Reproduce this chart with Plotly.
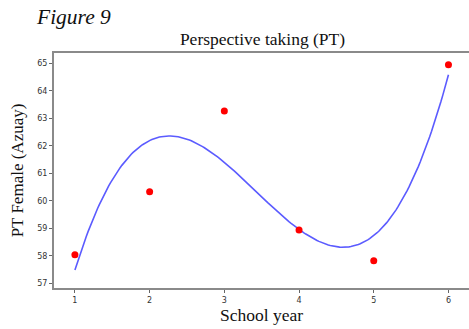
import numpy as np
import plotly.graph_objects as go

school_year = [1, 2, 3, 4, 5, 6]
pt_female = [58.04, 60.33, 63.27, 58.94, 57.82, 64.95]
y_ticks = [57, 58, 59, 60, 61, 62, 63, 64, 65]
x_ticks = [1, 2, 3, 4, 5, 6]

coef = np.polyfit(school_year, pt_female, 3)
xs = np.linspace(1, 6, 200)
ys = np.polyval(coef, xs)

fig = go.Figure()
fig.add_trace(go.Scatter(x=xs, y=ys, mode="lines",
                         line=dict(color="#5b5bff", width=1.6), hoverinfo="skip"))
fig.add_trace(go.Scatter(x=school_year, y=pt_female, mode="markers",
                         marker=dict(color="#ff0000", size=7)))

serif = "Liberation Serif"
PW, PH = 415, 235
fig.update_layout(
    width=469, height=329,
    margin=dict(l=54, r=0, t=53, b=41, autoexpand=False),
    paper_bgcolor="white", plot_bgcolor="white",
    showlegend=False,
    font=dict(family=serif, color="#111"),
    title=dict(text="Perspective taking (PT)", x=262.5 / 469, xanchor="center",
               y=1 - 39 / 329, yanchor="middle",
               font=dict(family=serif, size=17.5, color="#111")),
    annotations=[dict(text="<i>Figure 9</i>", xref="paper", yref="paper",
                      x=(34 - 54) / PW, y=1 + (53 - 17) / PH,
                      xanchor="left", yanchor="middle", showarrow=False,
                      font=dict(family=serif, size=21.5, color="#111"))],
)
fig.update_xaxes(range=[0.72, 6.275], tickvals=x_ticks, showgrid=False, zeroline=False,
                 showline=True, linecolor="#8a8a8a", linewidth=2, mirror=True,
                 ticks="outside", ticklen=3, tickcolor="#666", tickwidth=1,
                 automargin=False,
                 tickfont=dict(family="DejaVu Sans", size=8, color="#333"),
                 title=dict(text="School year", font=dict(family=serif, size=17.5, color="#111"),
                            standoff=2))
fig.update_yaxes(range=[56.83, 65.375], tickvals=y_ticks, showgrid=False, zeroline=False,
                 showline=True, linecolor="#8a8a8a", linewidth=2,
                 ticks="outside", ticklen=3, tickcolor="#666", tickwidth=1,
                 automargin=False,
                 tickfont=dict(family="DejaVu Sans", size=8, color="#333"),
                 title=dict(text="PT Female (Azuay)", font=dict(family=serif, size=17, color="#111"),
                            standoff=9))
fig.write_html("out.html", config={"displayModeBar": False},
               post_script="document.body.style.margin='0';document.body.style.overflow='hidden';")
